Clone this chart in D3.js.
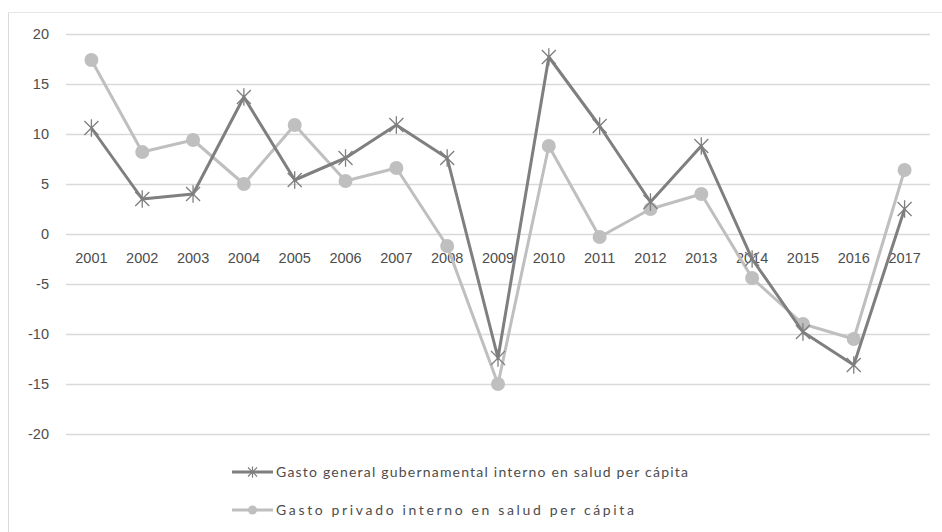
<!DOCTYPE html>
<html>
<head>
<meta charset="utf-8">
<script src="https://cdn.jsdelivr.net/npm/d3@7"></script>
<style>
html,body{margin:0;padding:0;background:#fff;}
svg{display:block;font-family:Lato,"Open Sans",sans-serif;}
</style>
</head>
<body>
<svg id="chart" width="942" height="532"></svg>
<script>
const years = ["2001","2002","2003","2004","2005","2006","2007","2008","2009","2010","2011","2012","2013","2014","2015","2016","2017"];
const gobierno = [10.6,3.5,4.0,13.7,5.4,7.6,10.9,7.6,-12.4,17.7,10.8,3.2,8.8,-2.5,-9.8,-13.1,2.5];
const privado = [17.4,8.2,9.4,5.0,10.9,5.3,6.6,-1.2,-15.0,8.8,-0.3,2.5,4.0,-4.4,-9.0,-10.5,6.4];
const yTicks = [20,15,10,5,0,-5,-10,-15,-20];
const seriesNames = ["Gasto general gubernamental interno en salud per cápita","Gasto privado interno en salud per cápita"];

const svg = d3.select("#chart");
const x = d3.scaleBand().domain(years).range([66,930]);
const y = d3.scaleLinear().domain([-20,20]).range([434,34]);
const txt = "#4d4d4d";

// frame
svg.append("line").attr("x1",8.5).attr("x2",8.5).attr("y1",12).attr("y2",532).attr("stroke","#d9d9d9").attr("stroke-width",1);
svg.append("line").attr("x1",8).attr("x2",942).attr("y1",12.5).attr("y2",12.5).attr("stroke","#e6e6e6").attr("stroke-width",1);

// y axis with gridlines
const yAxis = d3.axisLeft(y).tickValues(yTicks).tickSize(-(930-66)).tickFormat(d=>d<0?"-"+Math.abs(d):d);
const gy = svg.append("g").attr("transform","translate(66,0)").call(yAxis);
gy.select(".domain").remove();
gy.selectAll(".tick line").attr("stroke","#d9d9d9").attr("stroke-width",1.6);
gy.selectAll(".tick text").attr("x",-17).attr("fill",txt).style("font-size","14.5px");

// x axis labels at zero
const xAxis = d3.axisBottom(x).tickSize(0);
const gx = svg.append("g").attr("transform",`translate(0,${y(0)})`).call(xAxis);
gx.select(".domain").remove();
gx.selectAll(".tick text").attr("dy","0").attr("y",29).attr("fill",txt).style("font-size","14.5px");

const cx = d => x(d) + x.bandwidth()/2;
const line = d3.line().x(d=>cx(d[0])).y(d=>y(d[1]));

const gData = years.map((yr,i)=>[yr,gobierno[i]]);
const pData = years.map((yr,i)=>[yr,privado[i]]);

const cGov = "#7f7f7f", cPriv = "#bfbfbf";

// private series
svg.append("path").datum(pData).attr("d",line).attr("fill","none").attr("stroke",cPriv).attr("stroke-width",3).attr("stroke-linejoin","round");
svg.append("g").selectAll("circle").data(pData).join("circle")
  .attr("cx",d=>cx(d[0])).attr("cy",d=>y(d[1])).attr("r",7).attr("fill",cPriv);

// government series
svg.append("path").datum(gData).attr("d",line).attr("fill","none").attr("stroke",cGov).attr("stroke-width",3).attr("stroke-linejoin","round");
const star = (s)=>`M${-s},${-s}L${s},${s}M${-s},${s}L${s},${-s}M0,${-s*1.25}L0,${s*1.25}`;
svg.append("g").selectAll("path").data(gData).join("path")
  .attr("transform",d=>`translate(${cx(d[0])},${y(d[1])})`)
  .attr("d",star(7)).attr("stroke",cGov).attr("stroke-width",1.3).attr("fill","none");

// legend
const lg = svg.append("g");
const legendRows = [{name:seriesNames[0],c:cGov,m:"x",yy:472,w:412},{name:seriesNames[1],c:cPriv,m:"o",yy:510,w:358}];
legendRows.forEach(r=>{
  lg.append("line").attr("x1",232).attr("x2",273).attr("y1",r.yy).attr("y2",r.yy).attr("stroke",r.c).attr("stroke-width",3);
  if(r.m==="x"){
    lg.append("path").attr("transform",`translate(252.5,${r.yy})`).attr("d",star(4.5)).attr("stroke",r.c).attr("stroke-width",1.2).attr("fill","none");
  } else {
    lg.append("circle").attr("cx",252.5).attr("cy",r.yy).attr("r",4.5).attr("fill",r.c);
  }
  lg.append("text").attr("x",276).attr("y",r.yy+5).attr("fill",txt).style("font-size","14px")
    .attr("textLength",r.w).attr("lengthAdjust","spacing").text(r.name);
});
</script>
</body>
</html>
